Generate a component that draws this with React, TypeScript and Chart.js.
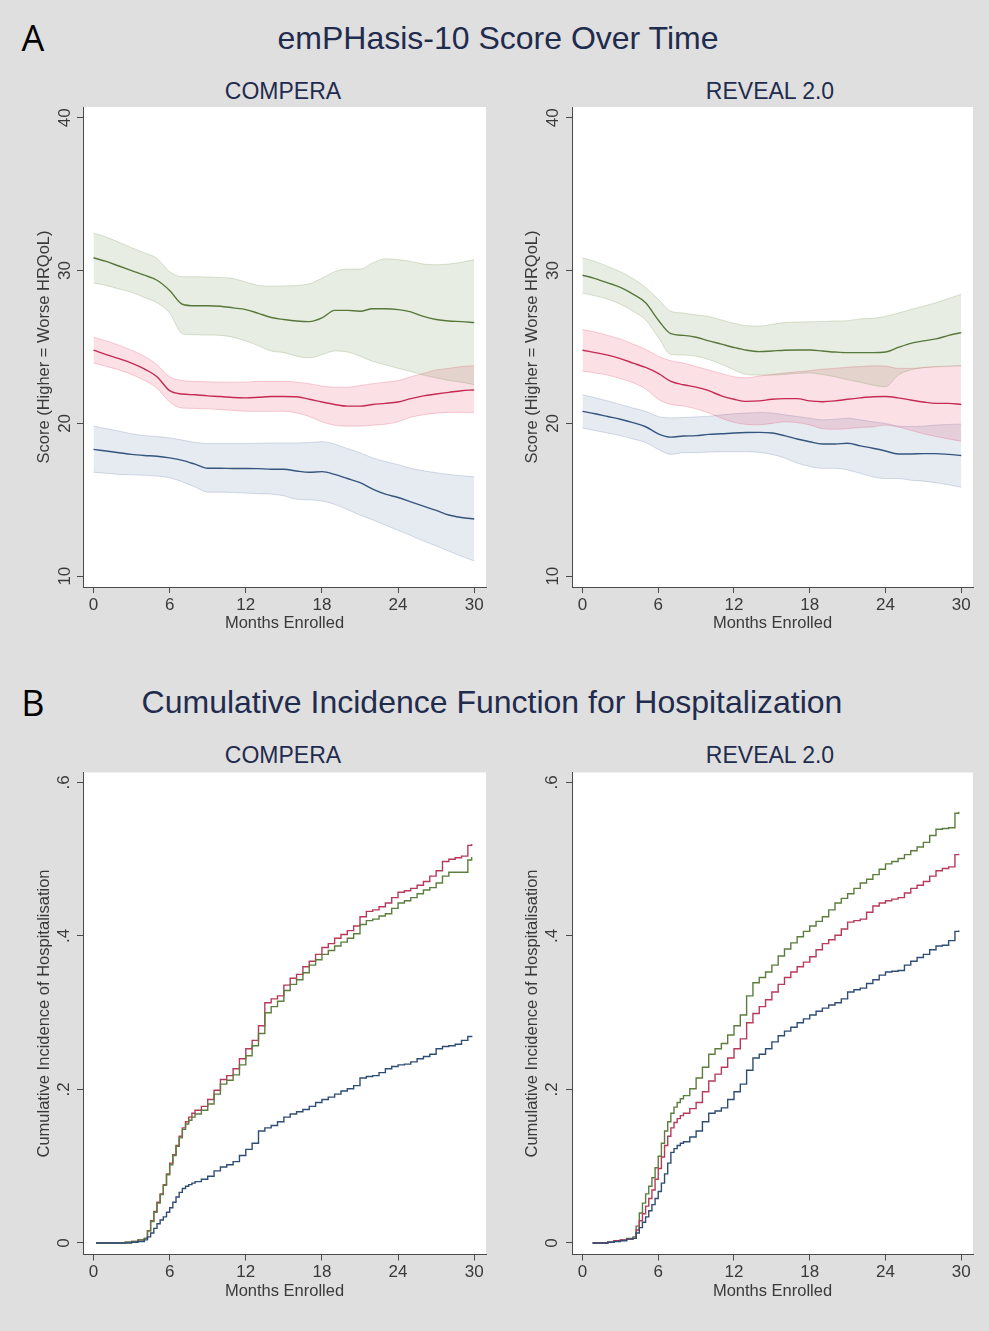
import React, { useEffect, useRef } from "react";
import { Chart, registerables } from "chart.js";

Chart.register(...registerables);

const FONT = "'Liberation Sans', Arial, Helvetica, sans-serif";
const TXT = "#3a3a3a";
const AXIS = "#4a4a4a";
const NAVY = "#1f2c4e";

// ---------- Panel A: emPHasis-10 score over time ----------
const monthsA = [0, 1, 2, 3, 4, 5, 6, 7, 8, 9, 10, 11, 12, 13, 14, 15, 16, 17, 18, 19, 20, 21, 22, 23, 24, 25, 26, 27, 28, 29, 30];

// COMPERA
const compGreen = [30.84, 30.6, 30.3, 30.0, 29.7, 29.37, 28.7, 27.8, 27.7, 27.7, 27.67, 27.56, 27.45, 27.2, 26.93, 26.8, 26.7, 26.66, 26.9, 27.4, 27.4, 27.34, 27.5, 27.5, 27.45, 27.3, 27.0, 26.8, 26.7, 26.66, 26.6];
const compGreenHi = [32.46, 32.2, 31.85, 31.5, 31.17, 30.8, 29.93, 29.6, 29.6, 29.58, 29.55, 29.48, 29.25, 29.03, 28.98, 29.0, 29.03, 29.14, 29.5, 29.93, 30.1, 30.1, 30.5, 30.77, 30.72, 30.6, 30.43, 30.38, 30.43, 30.55, 30.72];
const compGreenLo = [29.19, 29.03, 28.8, 28.58, 28.24, 27.9, 27.22, 25.87, 25.8, 25.78, 25.76, 25.64, 25.4, 25.08, 24.74, 24.63, 24.4, 24.29, 24.5, 24.74, 24.67, 24.4, 24.06, 23.84, 23.6, 23.4, 23.16, 22.98, 22.8, 22.7, 22.53];
const compRed = [24.79, 24.5, 24.24, 23.95, 23.57, 23.05, 22.14, 21.92, 21.87, 21.8, 21.76, 21.69, 21.67, 21.71, 21.76, 21.76, 21.74, 21.58, 21.4, 21.24, 21.13, 21.13, 21.24, 21.31, 21.4, 21.62, 21.8, 21.92, 22.03, 22.14, 22.19];
const compRedHi = [25.64, 25.4, 25.12, 24.79, 24.4, 23.84, 23.05, 22.8, 22.75, 22.72, 22.7, 22.7, 22.7, 22.75, 22.75, 22.75, 22.7, 22.6, 22.44, 22.37, 22.37, 22.48, 22.6, 22.7, 22.8, 23.05, 23.27, 23.5, 23.6, 23.72, 23.77];
const compRedLo = [23.95, 23.73, 23.5, 23.2, 22.82, 22.3, 21.4, 21.0, 20.98, 20.95, 20.9, 20.85, 20.79, 20.79, 20.79, 20.79, 20.68, 20.45, 20.1, 19.88, 19.82, 19.82, 19.88, 19.95, 20.1, 20.4, 20.56, 20.67, 20.72, 20.72, 20.72];
const compBlue = [18.3, 18.19, 18.08, 17.97, 17.9, 17.85, 17.74, 17.58, 17.33, 17.06, 17.06, 17.05, 17.05, 17.04, 17.0, 17.0, 16.88, 16.8, 16.84, 16.66, 16.39, 16.12, 15.7, 15.37, 15.15, 14.86, 14.58, 14.31, 14.0, 13.84, 13.74];
const compBlueHi = [19.82, 19.66, 19.5, 19.32, 19.2, 19.14, 19.05, 18.91, 18.75, 18.68, 18.68, 18.68, 18.68, 18.7, 18.72, 18.72, 18.72, 18.75, 18.8, 18.65, 18.35, 18.08, 17.74, 17.5, 17.3, 17.06, 16.9, 16.77, 16.66, 16.57, 16.5];
const compBlueLo = [16.8, 16.73, 16.66, 16.63, 16.6, 16.55, 16.44, 16.17, 15.84, 15.5, 15.5, 15.47, 15.44, 15.4, 15.37, 15.26, 15.03, 15.0, 14.92, 14.7, 14.36, 14.0, 13.68, 13.34, 13.0, 12.66, 12.3, 11.98, 11.64, 11.3, 11.0];

// REVEAL 2.0
const revGreen = [29.7, 29.48, 29.2, 28.9, 28.46, 27.9, 26.77, 25.87, 25.76, 25.64, 25.4, 25.19, 24.97, 24.79, 24.7, 24.74, 24.79, 24.8, 24.8, 24.74, 24.67, 24.63, 24.63, 24.63, 24.67, 24.97, 25.24, 25.4, 25.53, 25.76, 25.94];
const revGreenHi = [30.84, 30.6, 30.27, 29.93, 29.48, 28.9, 28.13, 27.34, 27.22, 27.1, 27.0, 26.77, 26.55, 26.39, 26.37, 26.48, 26.6, 26.63, 26.65, 26.67, 26.7, 26.72, 26.84, 26.88, 27.0, 27.22, 27.45, 27.67, 27.9, 28.17, 28.46];
const revGreenLo = [28.53, 28.35, 28.13, 27.8, 27.34, 26.77, 25.64, 24.51, 24.47, 24.4, 24.18, 23.88, 23.5, 23.2, 23.16, 23.16, 23.2, 23.27, 23.3, 23.2, 23.05, 22.85, 22.7, 22.5, 22.4, 23.16, 23.5, 23.65, 23.72, 23.76, 23.79];
const revRed = [24.79, 24.63, 24.47, 24.24, 23.95, 23.66, 23.27, 22.75, 22.53, 22.37, 22.14, 21.8, 21.58, 21.44, 21.47, 21.58, 21.62, 21.62, 21.47, 21.42, 21.47, 21.58, 21.67, 21.74, 21.76, 21.67, 21.53, 21.4, 21.31, 21.31, 21.24];
const revRedHi = [26.14, 25.98, 25.76, 25.53, 25.19, 24.85, 24.4, 24.1, 23.95, 23.72, 23.5, 23.27, 23.05, 22.98, 23.1, 23.2, 23.3, 23.38, 23.45, 23.55, 23.6, 23.68, 23.72, 23.77, 23.75, 23.6, 23.6, 23.65, 23.7, 23.72, 23.77];
const revRedLo = [23.43, 23.3, 23.16, 22.93, 22.66, 22.26, 21.58, 21.24, 21.13, 20.95, 20.68, 20.34, 20.07, 19.93, 19.91, 20.0, 20.1, 20.05, 19.9, 19.66, 19.62, 19.66, 19.73, 19.77, 19.89, 19.77, 19.55, 19.32, 19.14, 18.98, 18.83];
const revBlue = [20.79, 20.63, 20.45, 20.27, 20.05, 19.78, 19.32, 19.1, 19.17, 19.2, 19.28, 19.32, 19.37, 19.4, 19.41, 19.37, 19.2, 18.98, 18.8, 18.65, 18.65, 18.7, 18.53, 18.37, 18.19, 18.0, 18.0, 18.02, 18.02, 17.97, 17.9];
const revBlueHi = [21.87, 21.67, 21.47, 21.24, 21.0, 20.79, 20.45, 20.36, 20.38, 20.42, 20.47, 20.55, 20.63, 20.68, 20.72, 20.68, 20.56, 20.45, 20.34, 20.23, 20.27, 20.34, 20.23, 20.1, 20.0, 19.82, 19.8, 19.82, 19.89, 19.93, 19.95];
const revBlueLo = [19.7, 19.53, 19.37, 19.2, 18.98, 18.75, 18.3, 17.97, 18.08, 18.08, 18.12, 18.15, 18.15, 18.15, 18.1, 17.97, 17.74, 17.4, 17.18, 17.06, 17.06, 16.95, 16.73, 16.5, 16.39, 16.39, 16.28, 16.22, 16.12, 15.98, 15.82];

// ---------- Panel B: cumulative incidence of hospitalisation ----------
const timesBComp = [
  0.2, 0.5, 1, 1.5, 2, 2.5, 3, 3.5,
  4, 4.25, 4.5, 4.75, 5, 5.25, 5.5, 5.75,
  6, 6.25, 6.5, 6.75, 7, 7.25, 7.5, 7.75,
  8, 8.5, 9, 9.5, 10, 10.5, 11, 11.5, 12, 12.5, 13, 13.5, 14, 14.5,
  15, 15.5, 16, 16.5, 17, 17.5, 18, 18.5, 19, 19.5,
  20, 20.5, 21, 21.5, 22, 22.5, 23, 23.5, 24, 24.5,
  25, 25.5, 26, 26.5, 27, 27.5, 28, 28.5, 29, 29.5,
  29.8,
];
const cifCompRed = [
  0, 0, 0, 0, 0, 0.001, 0.002, 0.004,
  0.006, 0.016, 0.029, 0.041, 0.053, 0.064, 0.076, 0.09,
  0.104, 0.115, 0.127, 0.139, 0.15, 0.158, 0.164, 0.169,
  0.173, 0.178, 0.187, 0.199, 0.213, 0.218, 0.227, 0.24, 0.253, 0.264, 0.283, 0.313, 0.318, 0.322,
  0.336, 0.345, 0.35, 0.36, 0.367, 0.376, 0.385, 0.39, 0.397, 0.402,
  0.407, 0.413, 0.425, 0.432, 0.434, 0.438, 0.443, 0.45, 0.457, 0.459,
  0.462, 0.466, 0.471, 0.478, 0.485, 0.497, 0.5, 0.502, 0.504, 0.518,
  0.52,
];
const cifCompGreen = [
  0, 0, 0, 0, 0, 0.001, 0.002, 0.004,
  0.006, 0.016, 0.028, 0.04, 0.052, 0.063, 0.075, 0.089,
  0.102, 0.114, 0.126, 0.137, 0.148, 0.155, 0.16, 0.164,
  0.168, 0.173, 0.181, 0.194, 0.207, 0.212, 0.219, 0.232, 0.244, 0.257, 0.273, 0.3, 0.308, 0.315,
  0.329, 0.337, 0.343, 0.352, 0.362, 0.369, 0.376, 0.381, 0.387, 0.392,
  0.397, 0.403, 0.415, 0.42, 0.422, 0.426, 0.429, 0.436, 0.443, 0.446,
  0.45, 0.455, 0.46, 0.463, 0.469, 0.478, 0.483, 0.483, 0.483, 0.499,
  0.503,
];
const cifCompBlue = [
  0, 0, 0, 0, 0, 0, 0.001, 0.002,
  0.004, 0.008, 0.013, 0.019, 0.025, 0.03, 0.034, 0.04,
  0.046, 0.053, 0.06, 0.066, 0.071, 0.074, 0.076, 0.078,
  0.08, 0.083, 0.087, 0.094, 0.099, 0.102, 0.106, 0.114, 0.122, 0.13, 0.146, 0.15, 0.153, 0.158,
  0.164, 0.168, 0.171, 0.174, 0.178, 0.183, 0.187, 0.19, 0.194, 0.198,
  0.201, 0.205, 0.215, 0.217, 0.218, 0.222, 0.227, 0.23, 0.232, 0.233,
  0.236, 0.24, 0.243, 0.246, 0.253, 0.256, 0.257, 0.259, 0.264, 0.269,
  0.27,
];

const timesBRev = [
  0.8, 1, 1.5, 2, 2.5, 3, 3.5,
  4, 4.25, 4.5, 4.75, 5, 5.25, 5.5, 5.75,
  6, 6.25, 6.5, 6.75, 7, 7.25, 7.5, 7.75,
  8, 8.5, 9, 9.5, 10, 10.5, 11, 11.5, 12, 12.5, 13, 13.5, 14, 14.5,
  15, 15.5, 16, 16.5, 17, 17.5, 18, 18.5, 19, 19.5,
  20, 20.5, 21, 21.5, 22, 22.5, 23, 23.5, 24, 24.5,
  25, 25.5, 26, 26.5, 27, 27.5, 28, 28.5, 29, 29.5,
  29.8,
];
const cifRevGreen = [
  0, 0, 0, 0.001, 0.003, 0.004, 0.006,
  0.008, 0.022, 0.039, 0.052, 0.064, 0.074, 0.085, 0.098,
  0.113, 0.13, 0.146, 0.158, 0.169, 0.177, 0.183, 0.188,
  0.192, 0.201, 0.215, 0.229, 0.246, 0.253, 0.26, 0.271, 0.283, 0.297, 0.322, 0.339, 0.346, 0.353,
  0.362, 0.374, 0.383, 0.391, 0.399, 0.406, 0.413, 0.419, 0.425, 0.434,
  0.443, 0.449, 0.455, 0.462, 0.469, 0.474, 0.48, 0.487, 0.494, 0.497,
  0.501, 0.506, 0.511, 0.516, 0.522, 0.531, 0.539, 0.54, 0.541, 0.56,
  0.562,
];
const cifRevRed = [
  0, 0, 0, 0.001, 0.003, 0.004, 0.005,
  0.006, 0.017, 0.029, 0.038, 0.048, 0.058, 0.069, 0.083,
  0.097, 0.112, 0.127, 0.139, 0.15, 0.157, 0.162, 0.166,
  0.169, 0.175, 0.183, 0.197, 0.211, 0.22, 0.229, 0.241, 0.253, 0.266, 0.287, 0.299, 0.308, 0.317,
  0.327, 0.337, 0.346, 0.353, 0.36, 0.366, 0.373, 0.382, 0.39, 0.395,
  0.401, 0.409, 0.418, 0.42, 0.422, 0.431, 0.439, 0.443, 0.446, 0.448,
  0.45, 0.456, 0.462, 0.466, 0.471, 0.478, 0.485, 0.488, 0.49, 0.506,
  0.507,
];
const cifRevBlue = [
  0, 0, 0, 0.001, 0.002, 0.003, 0.005,
  0.006, 0.013, 0.02, 0.027, 0.034, 0.042, 0.05, 0.058,
  0.067, 0.078, 0.09, 0.104, 0.118, 0.123, 0.127, 0.13,
  0.132, 0.138, 0.146, 0.158, 0.169, 0.172, 0.176, 0.187, 0.197, 0.207, 0.225, 0.241, 0.246, 0.253,
  0.262, 0.27, 0.276, 0.281, 0.287, 0.292, 0.297, 0.302, 0.306, 0.31,
  0.313, 0.318, 0.327, 0.33, 0.332, 0.338, 0.343, 0.349, 0.353, 0.354,
  0.355, 0.362, 0.367, 0.372, 0.376, 0.382, 0.387, 0.388, 0.394, 0.406,
  0.407,
];

// ---------- Axis ticks ----------
const xTickValues = [0, 6, 12, 18, 24, 30];
const yTickValuesA = [10, 20, 30, 40];
const yTickLabelsA = ["10", "20", "30", "40"];
const yTickValuesB = [0, 0.2, 0.4, 0.6];
const yTickLabelsB = ["0", ".2", ".4", ".6"];

const xTitle = "Months Enrolled";
const yTitleA = "Score (Higher = Worse HRQoL)";
const yTitleB = "Cumulative Incidence of Hospitalisation";

// ---------- Styling ----------
const GREEN = "#56783a";
const RED = "#c42a52";
const BLUE = "#34557e";
const GREEN_FILL = "rgba(95, 130, 55, 0.14)";
const RED_FILL = "rgba(225, 45, 85, 0.15)";
const BLUE_FILL = "rgba(60, 90, 150, 0.13)";
const GREEN_EDGE = "rgba(95, 130, 55, 0.22)";
const RED_EDGE = "rgba(225, 45, 85, 0.22)";
const BLUE_EDGE = "rgba(60, 90, 150, 0.2)";
const CIF_GREEN = "#5c7d3c";
const CIF_RED = "#b73a5a";
const CIF_BLUE = "#2f4d74";

const zip = (xs: number[], ys: number[]) => xs.map((x, i) => ({ x, y: ys[i] }));

const whitePlot = {
  id: "whitePlot",
  beforeDraw(chart: any) {
    const { ctx, chartArea } = chart;
    ctx.save();
    ctx.fillStyle = "#ffffff";
    ctx.fillRect(chartArea.left, chartArea.top, chartArea.right - chartArea.left, chartArea.bottom - chartArea.top);
    ctx.restore();
  },
};

const rotatedYTicks = {
  id: "rotatedYTicks",
  afterDraw(chart: any, _args: any, opts: any) {
    const s = chart.scales.y;
    const ctx = chart.ctx;
    ctx.save();
    ctx.font = `${opts.size}px ${FONT}`;
    ctx.fillStyle = TXT;
    ctx.textAlign = "center";
    ctx.textBaseline = "middle";
    s.ticks.forEach((t: any, i: number) => {
      const y = s.getPixelForValue(t.value);
      ctx.save();
      ctx.translate(chart.chartArea.left - opts.offset, y);
      ctx.rotate(-Math.PI / 2);
      ctx.fillText(opts.labels[i], 0, 0);
      ctx.restore();
    });
    ctx.restore();
  },
};

type Geo = {
  left: number;
  top: number;
  width: number;
  height: number;
  padTop: number;
  padRight: number;
  yWidth: number;
  xHeight: number;
  yTitlePad: number;
  xTitlePad: number;
  tickOffset: number;
};

function makeOptions(geo: Geo, yMin: number, yMax: number, yTicks: number[], yLabels: string[], yTitle: string) {
  return {
    animation: false,
    responsive: false,
    devicePixelRatio: 1,
    layout: { padding: { left: 0, top: geo.padTop, right: geo.padRight, bottom: 0 } },
    plugins: {
      legend: { display: false },
      tooltip: { enabled: false },
      rotatedYTicks: { labels: yLabels, size: 17, offset: geo.tickOffset },
    },
    elements: { point: { radius: 0 } },
    scales: {
      x: {
        type: "linear",
        min: -0.83,
        max: 30.93,
        afterBuildTicks: (s: any) => {
          s.ticks = xTickValues.map((v) => ({ value: v }));
        },
        afterFit: (s: any) => {
          s.height = geo.xHeight;
        },
        grid: { display: true, drawOnChartArea: false, drawTicks: true, tickLength: 6, color: AXIS, lineWidth: 1 },
        border: { display: true, color: AXIS, width: 1 },
        ticks: { font: { family: FONT, size: 17 }, color: TXT, padding: 2, maxRotation: 0, autoSkip: false },
        title: {
          display: true,
          text: xTitle,
          font: { family: FONT, size: 16.5 },
          color: TXT,
          padding: { top: 0, bottom: geo.xTitlePad },
        },
      },
      y: {
        type: "linear",
        min: yMin,
        max: yMax,
        afterBuildTicks: (s: any) => {
          s.ticks = yTicks.map((v) => ({ value: v }));
        },
        afterFit: (s: any) => {
          s.width = geo.yWidth;
        },
        grid: { display: true, drawOnChartArea: false, drawTicks: true, tickLength: 6, color: AXIS, lineWidth: 1 },
        border: { display: true, color: AXIS, width: 1 },
        ticks: { display: false },
        title: {
          display: true,
          text: yTitle,
          font: { family: FONT, size: 16.5 },
          color: TXT,
          padding: { top: geo.yTitlePad, bottom: 0 },
        },
      },
    },
  };
}

type Band = { line: number[]; hi: number[]; lo: number[]; color: string; fill: string; edge: string };

function scoreDatasets(bands: Band[]) {
  const ds: any[] = [];
  bands.forEach((b) => {
    ds.push({
      data: zip(monthsA, b.hi),
      borderColor: b.edge,
      borderWidth: 1,
      backgroundColor: b.fill,
      fill: "+1",
      cubicInterpolationMode: "monotone",
      order: 2,
    });
    ds.push({
      data: zip(monthsA, b.lo),
      borderColor: b.edge,
      borderWidth: 1,
      fill: false,
      cubicInterpolationMode: "monotone",
      order: 2,
    });
  });
  bands.forEach((b) => {
    ds.push({
      data: zip(monthsA, b.line),
      borderColor: b.color,
      borderWidth: 1.4,
      fill: false,
      cubicInterpolationMode: "monotone",
      order: 1,
    });
  });
  return ds;
}

function cifDatasets(times: number[], series: { values: number[]; color: string }[]) {
  return series.map((s) => ({
    data: zip(times, s.values),
    borderColor: s.color,
    borderWidth: 1.4,
    fill: false,
    stepped: true,
  }));
}

function Panel({ geo, datasets, yMin, yMax, yTicks, yLabels, yTitle }: any) {
  const ref = useRef<HTMLCanvasElement>(null);
  useEffect(() => {
    const chart = new Chart(ref.current as HTMLCanvasElement, {
      type: "line",
      data: { datasets },
      options: makeOptions(geo, yMin, yMax, yTicks, yLabels, yTitle) as any,
      plugins: [whitePlot, rotatedYTicks],
    } as any);
    return () => chart.destroy();
  }, []);
  return (
    <canvas
      ref={ref}
      width={geo.width}
      height={geo.height}
      style={{ position: "absolute", left: geo.left, top: geo.top, width: geo.width, height: geo.height }}
    />
  );
}

function Text({ text, cx, cy, size, color, family, w = 900 }: any) {
  return (
    <div
      style={{
        position: "absolute",
        left: cx - w / 2,
        top: cy - size / 2,
        width: w,
        height: size,
        lineHeight: `${size}px`,
        fontSize: size,
        fontFamily: family,
        color,
        textAlign: "center",
        whiteSpace: "nowrap",
      }}
    >
      {text}
    </div>
  );
}

const geoAL: Geo = { left: 0, top: 100, width: 500, height: 545, padTop: 7, padRight: 14, yWidth: 83, xHeight: 58, yTitlePad: 35, xTitlePad: 12, tickOffset: 18 };
const geoAR: Geo = { left: 489, top: 100, width: 500, height: 545, padTop: 7, padRight: 16, yWidth: 83, xHeight: 58, yTitlePad: 34, xTitlePad: 12, tickOffset: 19 };
const geoBL: Geo = { left: 0, top: 765, width: 500, height: 545, padTop: 7.5, padRight: 14, yWidth: 83, xHeight: 55.5, yTitlePad: 35, xTitlePad: 9, tickOffset: 19 };
const geoBR: Geo = { left: 489, top: 765, width: 500, height: 545, padTop: 7.5, padRight: 16, yWidth: 83, xHeight: 55.5, yTitlePad: 34, xTitlePad: 9, tickOffset: 20 };

export default function App() {
  const compBands: Band[] = [
    { line: compGreen, hi: compGreenHi, lo: compGreenLo, color: GREEN, fill: GREEN_FILL, edge: GREEN_EDGE },
    { line: compRed, hi: compRedHi, lo: compRedLo, color: RED, fill: RED_FILL, edge: RED_EDGE },
    { line: compBlue, hi: compBlueHi, lo: compBlueLo, color: BLUE, fill: BLUE_FILL, edge: BLUE_EDGE },
  ];
  const revBands: Band[] = [
    { line: revGreen, hi: revGreenHi, lo: revGreenLo, color: GREEN, fill: GREEN_FILL, edge: GREEN_EDGE },
    { line: revRed, hi: revRedHi, lo: revRedLo, color: RED, fill: RED_FILL, edge: RED_EDGE },
    { line: revBlue, hi: revBlueHi, lo: revBlueLo, color: BLUE, fill: BLUE_FILL, edge: BLUE_EDGE },
  ];
  const cifComp = cifDatasets(timesBComp, [
    { values: cifCompBlue, color: CIF_BLUE },
    { values: cifCompGreen, color: CIF_GREEN },
    { values: cifCompRed, color: CIF_RED },
  ]);
  const cifRev = cifDatasets(timesBRev, [
    { values: cifRevBlue, color: CIF_BLUE },
    { values: cifRevRed, color: CIF_RED },
    { values: cifRevGreen, color: CIF_GREEN },
  ]);

  const sans = FONT;
  const letter = "'Open Sans', 'Liberation Sans', Arial, sans-serif";

  return (
    <div style={{ position: "absolute", left: 0, top: 0, width: 989, height: 1331, background: "#dfdfdf", overflow: "hidden" }}>
      <Text text="A" cx={33} cy={38} size={36} color="#000" family={letter} w={60} />
      <Text text="emPHasis-10 Score Over Time" cx={498} cy={38} size={32} color={NAVY} family={sans} />
      <Text text="COMPERA" cx={283} cy={91} size={23} color={NAVY} family={sans} w={300} />
      <Text text="REVEAL 2.0" cx={770} cy={91} size={23} color={NAVY} family={sans} w={300} />

      <Text text="B" cx={33} cy={703} size={36} color="#000" family={letter} w={60} />
      <Text text="Cumulative Incidence Function for Hospitalization" cx={492} cy={702} size={32} color={NAVY} family={sans} />
      <Text text="COMPERA" cx={283} cy={755} size={23} color={NAVY} family={sans} w={300} />
      <Text text="REVEAL 2.0" cx={770} cy={755} size={23} color={NAVY} family={sans} w={300} />

      <Panel geo={geoAL} datasets={scoreDatasets(compBands)} yMin={9.29} yMax={40.71} yTicks={yTickValuesA} yLabels={yTickLabelsA} yTitle={yTitleA} />
      <Panel geo={geoAR} datasets={scoreDatasets(revBands)} yMin={9.29} yMax={40.71} yTicks={yTickValuesA} yLabels={yTickLabelsA} yTitle={yTitleA} />
      <Panel geo={geoBL} datasets={cifComp} yMin={-0.015} yMax={0.613} yTicks={yTickValuesB} yLabels={yTickLabelsB} yTitle={yTitleB} />
      <Panel geo={geoBR} datasets={cifRev} yMin={-0.015} yMax={0.613} yTicks={yTickValuesB} yLabels={yTickLabelsB} yTitle={yTitleB} />
    </div>
  );
}
